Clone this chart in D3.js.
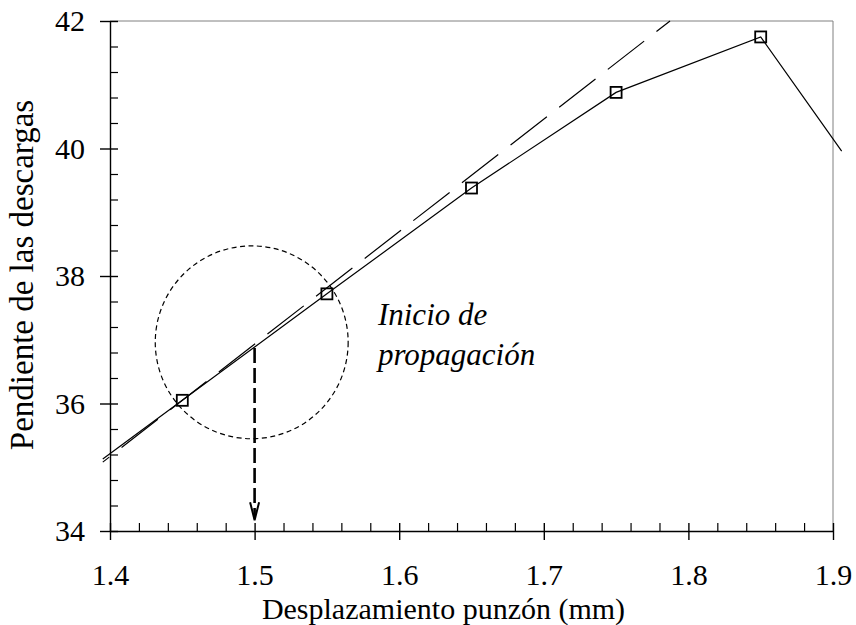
<!DOCTYPE html>
<html>
<head>
<meta charset="utf-8">
<script src="https://cdn.jsdelivr.net/npm/d3@7"></script>
<style>
  html, body { margin: 0; padding: 0; background: #fff; }
  svg { display: block; }
  svg text { font-family: "Liberation Serif", "Times New Roman", serif !important; fill: #000; }
</style>
</head>
<body>
<svg id="chart" width="856" height="625"></svg>
<script>
// Measured points (displacement in mm, unloading slope)
const xValues = [1.45, 1.55, 1.65, 1.75, 1.85];
const yValues = [36.05, 37.72, 39.38, 40.88, 41.75];

// Curve continues slightly beyond the axes at both ends
const curveStart = [1.395, 35.13];
const curveEnd = [1.906, 39.96];

// Linear trend of the initial (elastic) stretch
const trendX = [1.395, 1.7873];
const trendY = [35.08, 42];

// Axis ticks
const xMajor = [1.4, 1.5, 1.6, 1.7, 1.8, 1.9];
const xTickLabels = ["1.4", "1.5", "1.6", "1.7", "1.8", "1.9"];
const yMajor = [34, 36, 38, 40, 42];
const yTickLabels = ["34", "36", "38", "40", "42"];

// Highlighted zone: crack initiation
const zoneCenter = [1.498, 36.96];
const zoneRadiusX = 0.0667;
const arrowX = 1.5;
const arrowFrom = 36.87;
const arrowTo = 34.17;
const noteLines = ["Inicio de", "propagación"];
const notePos = [1.5853, 37.23, 36.60];

const xTitle = "Desplazamiento punzón (mm)";
const yTitle = "Pendiente de las descargas";

const serif = '"Liberation Serif", "Times New Roman", serif';
const svg = d3.select("#chart").attr("font-family", serif);
const plotLeft = 110, plotRight = 833, plotTop = 21, plotBottom = 531;

const x = d3.scaleLinear().domain([1.4, 1.9]).range([plotLeft, plotRight]);
const y = d3.scaleLinear().domain([34, 42]).range([plotBottom, plotTop]);

// minor ticks
const xMinor = d3.range(0, 26).map(i => +(1.4 + i * 0.02).toFixed(2)).filter(v => !xMajor.some(m => Math.abs(m - v) < 1e-9));
const yMinor = d3.range(0, 21).map(i => +(34 + i * 0.4).toFixed(1)).filter(v => !yMajor.some(m => Math.abs(m - v) < 1e-9));

// frame: top and right in grey
svg.append("line").attr("x1", plotLeft).attr("x2", plotRight).attr("y1", plotTop).attr("y2", plotTop)
  .attr("stroke", "#808080").attr("stroke-width", 1);
svg.append("line").attr("x1", plotRight).attr("x2", plotRight).attr("y1", plotTop).attr("y2", plotBottom)
  .attr("stroke", "#808080").attr("stroke-width", 1);

// Y axis
const yAxis = svg.append("g").attr("transform", `translate(${plotLeft},0)`)
  .call(d3.axisLeft(y).tickValues(yMajor).tickFormat((d, i) => yTickLabels[i])
    .tickSizeInner(10).tickSizeOuter(0).tickPadding(15));
yAxis.attr("font-family", serif).attr("font-size", 30);
yAxis.select(".domain").attr("stroke", "#000").attr("stroke-width", 1.4);
yAxis.selectAll(".tick line").attr("x1", -10).attr("x2", 8).attr("stroke-width", 1.4);
svg.append("g").attr("transform", `translate(${plotLeft},0)`)
  .call(d3.axisLeft(y).tickValues(yMinor).tickFormat("").tickSizeInner(-8).tickSizeOuter(0))
  .call(g => g.select(".domain").remove())
  .selectAll(".tick line").attr("stroke-width", 1.2);

// X axis
const xAxis = svg.append("g").attr("transform", `translate(0,${plotBottom})`)
  .call(d3.axisBottom(x).tickValues(xMajor).tickFormat((d, i) => xTickLabels[i])
    .tickSizeInner(9).tickSizeOuter(0));
xAxis.attr("font-family", serif).attr("font-size", 30);
xAxis.select(".domain").attr("stroke", "#000").attr("stroke-width", 1.4);
xAxis.selectAll(".tick line").attr("y1", -8).attr("y2", 9).attr("stroke-width", 1.4);
xAxis.selectAll(".tick text").attr("y", 54).attr("dy", null);
svg.append("g").attr("transform", `translate(0,${plotBottom})`)
  .call(d3.axisBottom(x).tickValues(xMinor).tickFormat("").tickSizeInner(-8).tickSizeOuter(0))
  .call(g => g.select(".domain").remove())
  .selectAll(".tick line").attr("stroke-width", 1.2);

// Axis titles
svg.append("text").attr("x", 443.5).attr("y", 618.5).attr("text-anchor", "middle")
  .attr("font-size", 30).text(xTitle);
svg.append("text").attr("transform", "translate(33,275) rotate(-90)").attr("text-anchor", "middle")
  .attr("font-size", 33).text(yTitle);

// Trend line (dashed)
const trend = trendX.map((d, i) => [d, trendY[i]]);
svg.append("path").datum(trend)
  .attr("d", d3.line().x(d => x(d[0])).y(d => y(d[1])))
  .attr("fill", "none").attr("stroke", "#000").attr("stroke-width", 1.2)
  .attr("stroke-dasharray", "46,15.6").attr("stroke-dashoffset", 37.8);

// Measured curve
const pts = xValues.map((d, i) => [d, yValues[i]]);
const curve = [curveStart, ...pts, curveEnd];
svg.append("path").datum(curve)
  .attr("d", d3.line().x(d => x(d[0])).y(d => y(d[1])))
  .attr("fill", "none").attr("stroke", "#000").attr("stroke-width", 1.2);

// Square markers
svg.append("g").selectAll("rect").data(pts).join("rect")
  .attr("x", d => x(d[0]) - 5.5).attr("y", d => y(d[1]) - 5.5)
  .attr("width", 11).attr("height", 11)
  .attr("fill", "none").attr("stroke", "#000").attr("stroke-width", 1.8);

// Highlight circle
const r = x(zoneCenter[0] + zoneRadiusX) - x(zoneCenter[0]);
svg.append("circle").attr("cx", x(zoneCenter[0])).attr("cy", y(zoneCenter[1])).attr("r", r)
  .attr("fill", "none").attr("stroke", "#000").attr("stroke-width", 1.2)
  .attr("stroke-dasharray", "5,3.5");

// Arrow down to the axis
const ax = x(arrowX);
svg.append("line").attr("x1", ax).attr("x2", ax).attr("y1", y(arrowFrom)).attr("y2", y(arrowTo) - 2)
  .attr("stroke", "#000").attr("stroke-width", 2.6).attr("stroke-dasharray", "15,5");
svg.append("path")
  .attr("d", `M${ax - 4.5},${y(arrowTo) - 18} L${ax},${y(arrowTo)} L${ax + 4.5},${y(arrowTo) - 18}`)
  .attr("fill", "none").attr("stroke", "#000").attr("stroke-width", 2);

// Note
svg.append("text").attr("x", x(notePos[0])).attr("y", y(notePos[1]))
  .attr("font-size", 31).attr("font-style", "italic").text(noteLines[0]);
svg.append("text").attr("x", x(notePos[0])).attr("y", y(notePos[2]))
  .attr("font-size", 31).attr("font-style", "italic").text(noteLines[1]);
</script>
</body>
</html>
